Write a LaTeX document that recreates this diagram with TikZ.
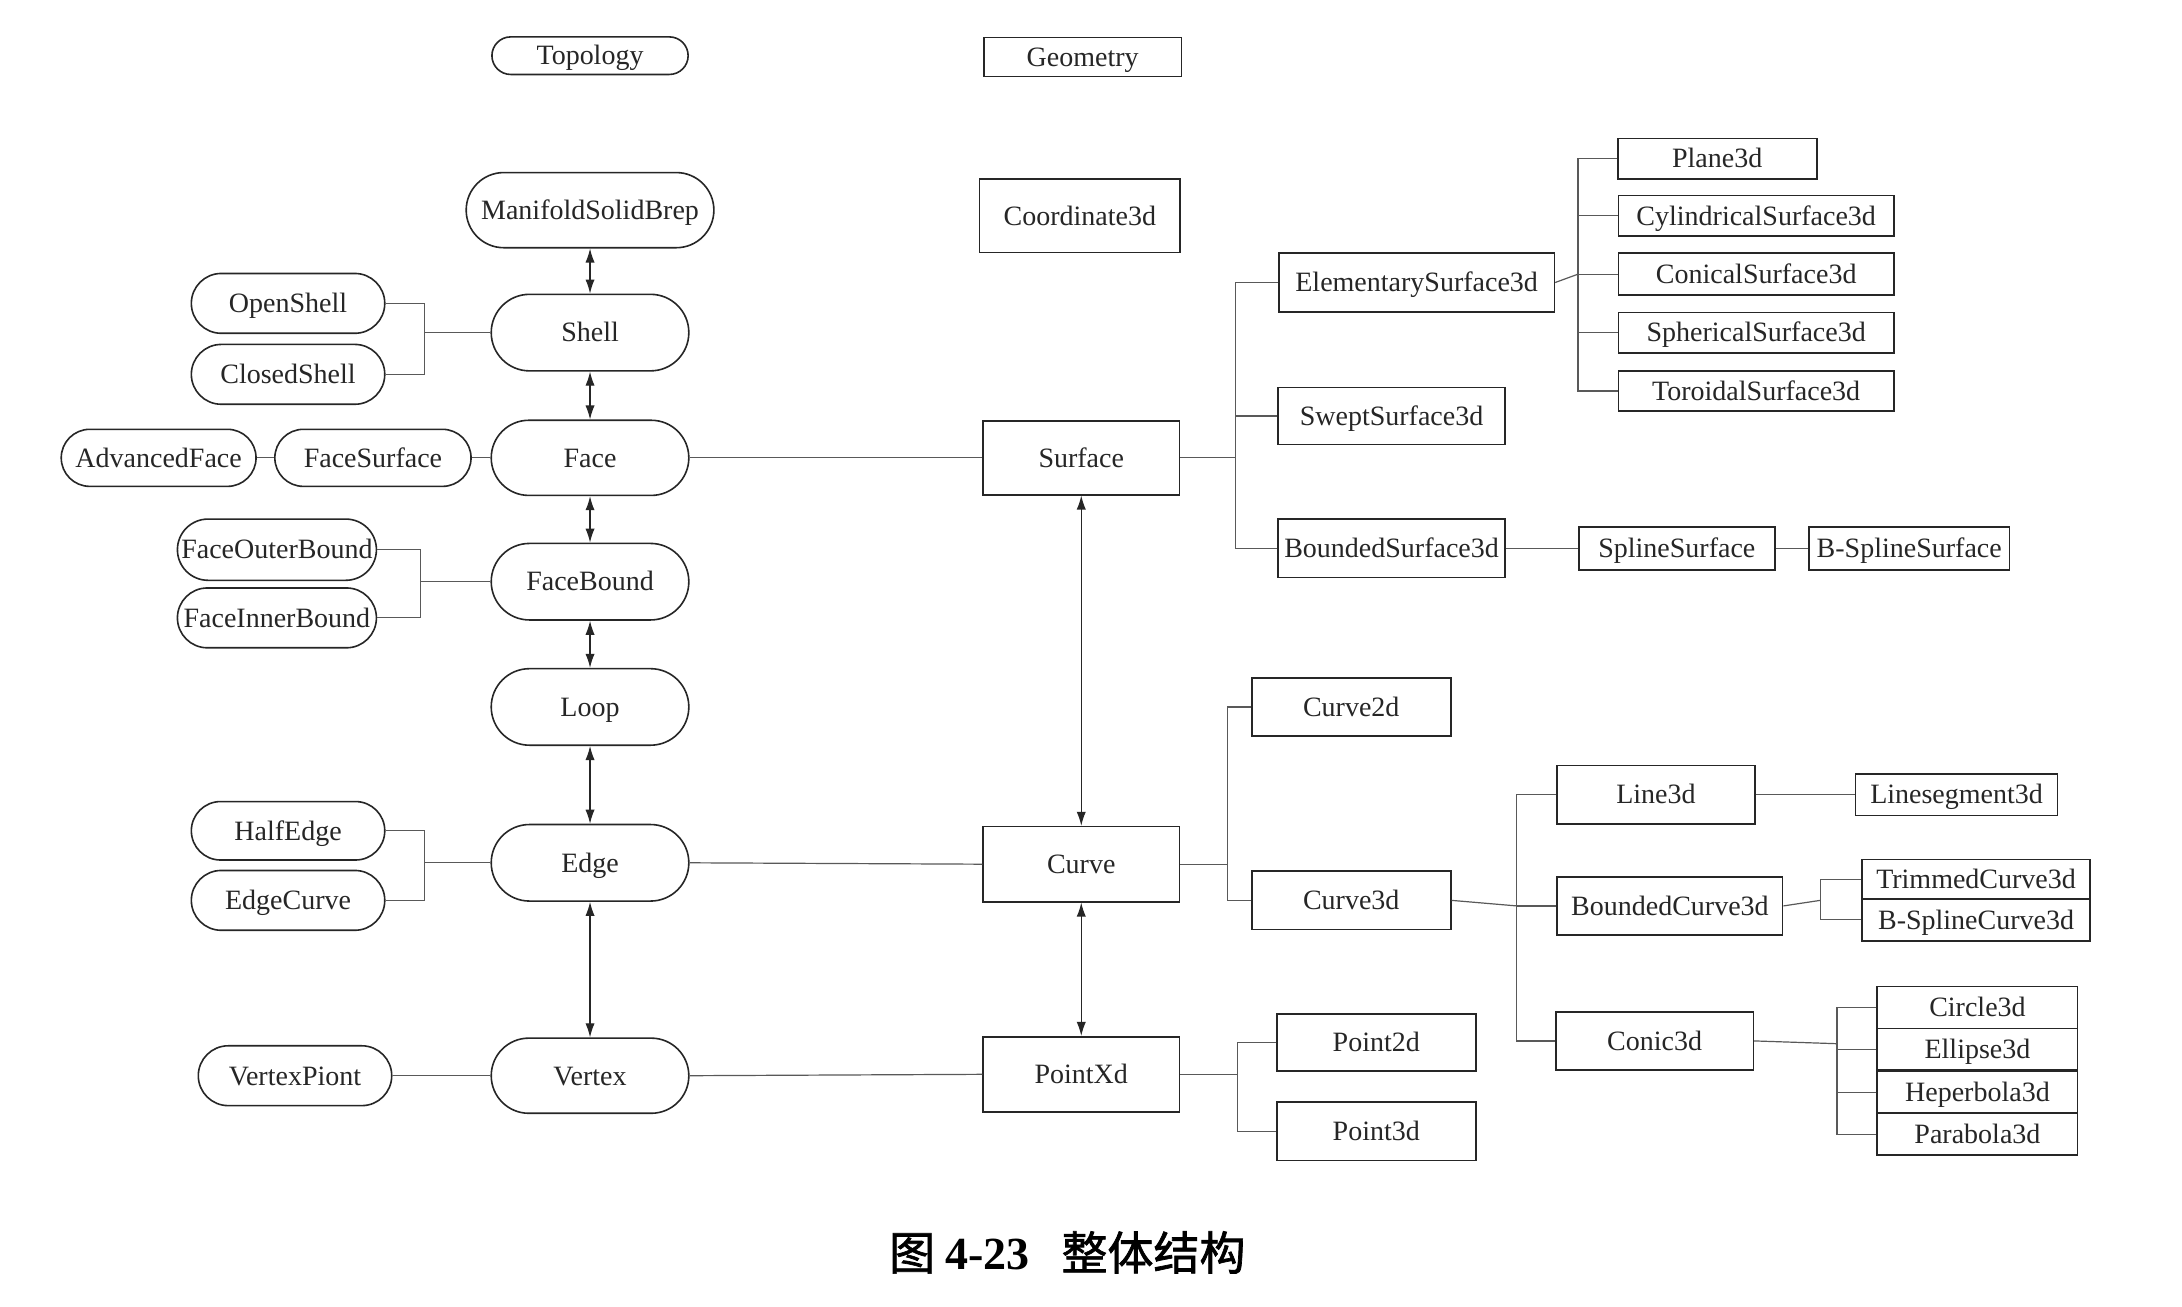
\documentclass[tikz,border=0pt]{standalone}
\usepackage{fontspec}
\setmainfont{Liberation Serif}
\newfontfamily\cjk[FakeBold=1.5]{Noto Sans CJK SC}
\usetikzlibrary{arrows.meta,calc}

\definecolor{ink}{HTML}{262626}
\definecolor{wire}{HTML}{595959}

\tikzset{
  lbl/.style={font=\fontsize{14}{16}\selectfont, text=ink, inner sep=0pt,
    text height=9.3pt, text depth=0pt, draw=ink, line width=0.8pt, fill=white},
  pill/.style 2 args={lbl, minimum width={#1*0.6958pt}, minimum height={#2*0.6958pt},
    rounded corners={#2*0.3479pt}},
  cls/.style 2 args={lbl, minimum width={#1*0.6958pt}, minimum height={#2*0.6958pt}},
  conn/.style={draw=wire, line width=0.6pt},
  biarrow/.style={draw=ink, line width=0.6pt,
    {Latex[length=7pt,width=4.6pt]}-{Latex[length=7pt,width=4.6pt]}},
}

\begin{document}
\begin{tikzpicture}[x=0.6958pt, y=-0.6958pt]
\useasboundingbox[fill=white] (0,0) rectangle (1568,939);

% ---------- topology column ----------
\node[pill={141}{27}] (topo) at (424,40) {Topology};
\node[pill={178}{54}] (msb) at (424,151) {ManifoldSolidBrep};
\node[pill={142}{55}] (shell) at (424,239) {Shell};
\node[pill={142}{54}] (face) at (424,329) {Face};
\node[pill={142}{55}] (fbound) at (424,418) {FaceBound};
\node[pill={142}{55}] (loop) at (424,508) {Loop};
\node[pill={142}{55}] (edge) at (424,620) {Edge};
\node[pill={142}{54}] (vertex) at (424,773) {Vertex};

\node[pill={139}{43}] (openshell) at (207,218) {OpenShell};
\node[pill={139}{43}] (closedshell) at (207,269) {ClosedShell};
\node[pill={141}{41}] (facesurf) at (268,329) {FaceSurface};
\node[pill={140}{41}] (advface) at (114,329) {AdvancedFace};
\node[pill={143}{44}] (fouter) at (199,395) {FaceOuterBound};
\node[pill={143}{43}] (finner) at (199,444) {FaceInnerBound};
\node[pill={139}{42}] (halfedge) at (207,597) {HalfEdge};
\node[pill={139}{43}] (edgecurve) at (207,647) {EdgeCurve};
\node[pill={139}{43}] (vpiont) at (212,773) {VertexPiont};

% ---------- geometry column ----------
\node[cls={142}{28}] (geom) at (778,41) {Geometry};
\node[cls={144}{53}] (coord) at (776,155) {Coordinate3d};
\node[cls={141}{53}] (surf) at (777,329) {Surface};
\node[cls={141}{54}] (curve) at (777,621) {Curve};
\node[cls={141}{54}] (pointxd) at (777,772) {PointXd};

% surfaces
\node[cls={198}{42}] (elem) at (1018,203) {ElementarySurface3d};
\node[cls={163}{41}] (swept) at (1000,299) {SweptSurface3d};
\node[cls={163}{42}] (bsurf) at (1000,394) {BoundedSurface3d};
\node[cls={143}{29}] (plane) at (1234,114) {Plane3d};
\node[cls={198}{29}] (cyl) at (1262,155) {CylindricalSurface3d};
\node[cls={198}{30}] (conical) at (1262,197) {ConicalSurface3d};
\node[cls={198}{29}] (sph) at (1262,239) {SphericalSurface3d};
\node[cls={198}{29}] (tor) at (1262,281) {ToroidalSurface3d};
\node[cls={141}{31}] (spline) at (1205,394) {SplineSurface};
\node[cls={144}{31}] (bspline) at (1372,394) {B-SplineSurface};

% curves
\node[cls={143}{42}] (curve2d) at (971,508) {Curve2d};
\node[cls={143}{42}] (curve3d) at (971,647) {Curve3d};
\node[cls={142}{42}] (line3d) at (1190,571) {Line3d};
\node[cls={162}{42}] (bcurve) at (1200,651) {BoundedCurve3d};
\node[cls={142}{42}] (conic) at (1189,748) {Conic3d};
\node[cls={145}{30}] (lseg) at (1406,571) {Linesegment3d};
\node[cls={164}{29}] (trim) at (1420,632) {TrimmedCurve3d};
\node[cls={164}{30}] (bsc) at (1420,661) {B-SplineCurve3d};
\node[cls={144}{30}] (circ) at (1421,724) {Circle3d};
\node[cls={144}{30}] (ell) at (1421,754) {Ellipse3d};
\node[cls={144}{30}] (hyp) at (1421,785) {Heperbola3d};
\node[cls={144}{30}] (para) at (1421,815) {Parabola3d};

% points
\node[cls={143}{41}] (p2d) at (989,749) {Point2d};
\node[cls={143}{42}] (p3d) at (989,813) {Point3d};

% ---------- junctions ----------
\coordinate (jshell) at (305,239);
\coordinate (jfb) at (302,418);
\coordinate (jedge) at (305,620);
\coordinate (jsurf) at (888,329);
\coordinate (jelem) at (1134,197);
\coordinate (jcurve) at (882,621);
\coordinate (jc3) at (1090,651);
\coordinate (jbc) at (1308,647);
\coordinate (jconic) at (1320,750);
\coordinate (jpt) at (889,772);

% ---------- topology links ----------
\draw[biarrow] (msb.south) -- (shell.north);
\draw[biarrow] (shell.south) -- (face.north);
\draw[biarrow] (face.south) -- (fbound.north);
\draw[biarrow] (fbound.south) -- (loop.north);
\draw[biarrow] (loop.south) -- (edge.north);
\draw[biarrow] (edge.south) -- (vertex.north);

\draw[conn] (openshell.east) -| (jshell) |- (closedshell.east);
\draw[conn] (jshell) -- (shell.west);
\draw[conn] (advface.east) -- (facesurf.west);
\draw[conn] (facesurf.east) -- (face.west);
\draw[conn] (fouter.east) -| (jfb) |- (finner.east);
\draw[conn] (jfb) -- (fbound.west);
\draw[conn] (halfedge.east) -| (jedge) |- (edgecurve.east);
\draw[conn] (jedge) -- (edge.west);
\draw[conn] (vpiont.east) -- (vertex.west);

% ---------- topology to geometry ----------
\draw[conn] (face.east) -- (surf.west);
\draw[conn] (edge.east) -- (curve.west);
\draw[conn] (vertex.east) -- (pointxd.west);
\draw[biarrow] (surf.south) -- (curve.north);
\draw[biarrow] (curve.south) -- (pointxd.north);

% ---------- surface hierarchy ----------
\draw[conn] (surf.east) -- (jsurf);
\draw[conn] (elem.west) -| (jsurf) |- (bsurf.west);
\draw[conn] (swept.west) -- (swept.west -| jsurf);
\draw[conn] (elem.east) -- (jelem);
\draw[conn] (plane.west) -| (jelem) |- (tor.west);
\draw[conn] (cyl.west) -- (cyl.west -| jelem);
\draw[conn] (conical.west) -- (jelem);
\draw[conn] (sph.west) -- (sph.west -| jelem);
\draw[conn] (bsurf.east) -- (spline.west);
\draw[conn] (spline.east) -- (bspline.west);

% ---------- curve hierarchy ----------
\draw[conn] (curve.east) -- (jcurve);
\draw[conn] (curve2d.west) -| (jcurve) |- (curve3d.west);
\draw[conn] (curve3d.east) -- (jc3);
\draw[conn] (line3d.west) -| (jc3) |- (conic.west);
\draw[conn] (bcurve.west) -- (jc3);
\draw[conn] (line3d.east) -- (lseg.west);
\draw[conn] (bcurve.east) -- (jbc);
\draw[conn] (trim.west) -| (jbc) |- (bsc.west);
\draw[conn] (conic.east) -- (jconic);
\draw[conn] (circ.west) -| (jconic) |- (para.west);
\draw[conn] (ell.west) -- (ell.west -| jconic);
\draw[conn] (hyp.west) -- (hyp.west -| jconic);

% ---------- point hierarchy ----------
\draw[conn] (pointxd.east) -- (jpt);
\draw[conn] (p2d.west) -| (jpt) |- (p3d.west);

% ---------- caption ----------
\node[text=black, inner sep=0pt] (caption) at (767,900)
  {\fontsize{23}{23}\selectfont\cjk 图\hspace{5pt}{\rmfamily\bfseries 4-23}\hspace{16pt}整体结构};
\end{tikzpicture}
\end{document}
